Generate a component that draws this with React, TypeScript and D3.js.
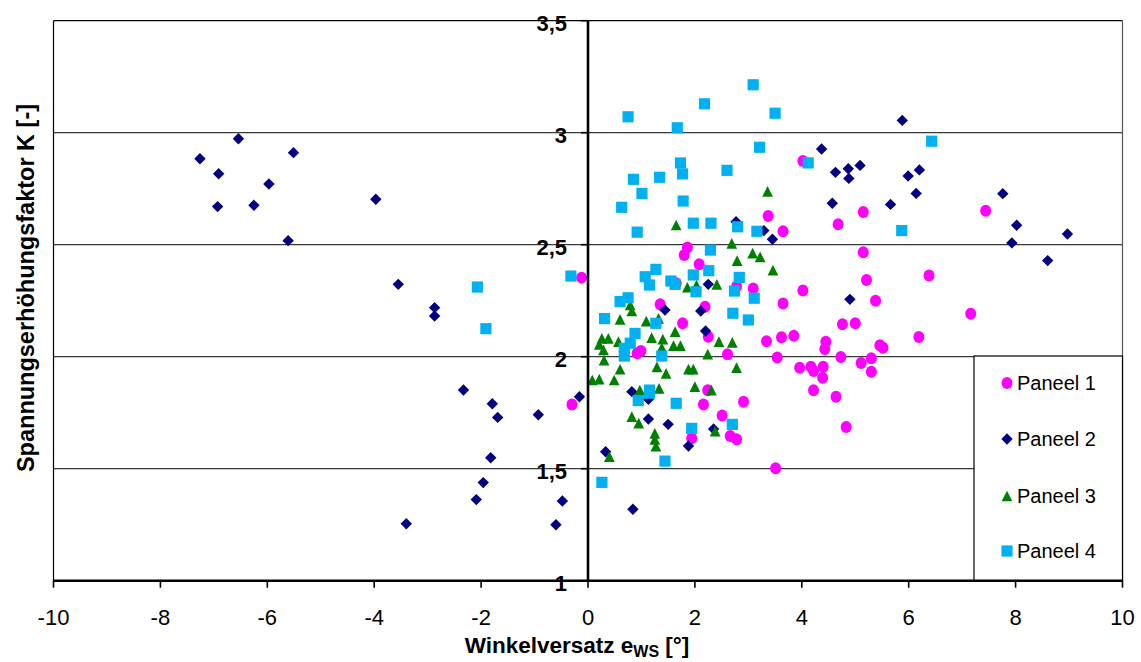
import React from "react";
import * as d3 from "d3";

// Paneel series: [Winkelversatz e_WS in °, Spannungserhöhungsfaktor K]
const paneel1: [number, number][] = [
  [-0.12, 2.353], [-0.3, 1.787], [4.02, 2.874], [3.37, 2.628], [4.68, 2.591], [5.15, 2.646],
  [7.44, 2.652], [3.65, 2.56], [1.86, 2.487], [1.8, 2.454], [2.08, 2.413], [5.15, 2.466],
  [6.38, 2.363], [5.21, 2.342], [3.09, 2.305], [4.02, 2.296], [1.65, 2.328], [2.78, 2.313],
  [3.65, 2.237], [5.38, 2.25], [1.35, 2.234], [2.19, 2.223], [7.16, 2.192], [1.77, 2.149],
  [4.76, 2.145], [5.0, 2.149], [2.25, 2.089], [3.34, 2.069], [3.62, 2.087], [3.85, 2.094],
  [4.45, 2.067], [4.43, 2.034], [6.19, 2.088], [5.46, 2.051], [5.52, 2.04], [0.92, 2.015],
  [0.99, 2.025], [2.61, 2.011], [3.54, 1.996], [4.73, 1.999], [5.11, 1.972], [5.3, 1.993],
  [3.96, 1.951], [4.17, 1.955], [4.22, 1.936], [4.4, 1.955], [4.39, 1.906], [5.3, 1.933],
  [4.22, 1.85], [2.24, 1.85], [4.64, 1.821], [2.16, 1.787], [2.91, 1.799], [2.51, 1.737],
  [1.94, 1.636], [2.66, 1.646], [2.78, 1.631], [4.83, 1.686], [3.51, 1.502],
];

const paneel2: [number, number][] = [
  [-7.26, 2.884], [-6.54, 2.973], [-6.91, 2.817], [-5.51, 2.911], [-5.97, 2.771], [-6.93, 2.67],
  [-6.25, 2.676], [-3.97, 2.703], [-5.61, 2.518], [-3.55, 2.323], [-2.87, 2.219], [-2.87, 2.182],
  [-2.33, 1.851], [-1.79, 1.79], [-1.69, 1.729], [-0.93, 1.741], [-0.16, 1.821], [-1.82, 1.549],
  [-1.96, 1.438], [-2.09, 1.362], [-0.48, 1.356], [-0.6, 1.25], [-3.4, 1.254], [0.84, 1.319],
  [0.33, 1.576], [0.82, 1.844], [1.13, 1.722], [1.5, 1.698], [1.88, 1.601], [2.35, 1.677],
  [1.13, 1.81], [1.44, 2.208], [2.11, 2.204], [2.2, 2.115], [2.25, 2.323], [2.77, 2.603],
  [3.29, 2.563], [3.45, 2.524], [4.37, 2.927], [4.63, 2.823], [4.87, 2.839], [4.88, 2.796],
  [5.09, 2.854], [4.57, 2.685], [5.88, 3.055], [5.99, 2.807], [6.2, 2.834], [6.14, 2.729],
  [5.66, 2.68], [7.76, 2.728], [8.02, 2.587], [7.93, 2.508], [8.97, 2.548], [8.6, 2.429],
  [4.9, 2.256],
];

const paneel3: [number, number][] = [
  [0.08, 1.896], [0.21, 1.9], [0.49, 1.896], [0.3, 1.985], [0.6, 1.944], [0.26, 2.082],
  [0.38, 2.082], [0.21, 2.055], [0.29, 2.03], [0.57, 2.067], [0.79, 2.231], [0.82, 2.204],
  [0.6, 2.167], [1.09, 2.159], [1.32, 2.171], [1.63, 2.112], [1.19, 2.085], [1.4, 2.078],
  [1.6, 2.049], [1.73, 2.049], [1.38, 2.04], [1.29, 1.955], [1.46, 1.926], [1.88, 1.945],
  [1.97, 1.945], [0.97, 1.851], [1.33, 1.859], [2.0, 1.866], [0.82, 1.732], [0.95, 1.703],
  [1.25, 1.658], [1.25, 1.631], [1.27, 1.601], [0.4, 1.554], [2.38, 1.668], [2.31, 1.851],
  [2.24, 2.011], [2.45, 2.067], [2.7, 2.064], [2.78, 1.951], [2.41, 2.323], [2.03, 2.32],
  [1.86, 2.31], [2.69, 2.506], [3.08, 2.462], [3.22, 2.446], [2.79, 2.429], [3.46, 2.386],
  [3.36, 2.738], [1.65, 2.588],
];

const paneel4: [number, number][] = [
  [-2.07, 2.311], [-1.91, 2.125], [-0.32, 2.36], [0.26, 1.439], [0.75, 3.071], [1.67, 3.022],
  [2.18, 3.129], [3.09, 3.214], [3.5, 3.087], [3.21, 2.935], [1.73, 2.865], [1.77, 2.816],
  [0.85, 2.792], [1.34, 2.801], [1.01, 2.729], [0.63, 2.667], [1.78, 2.695], [2.6, 2.832],
  [4.12, 2.865], [6.43, 2.962], [5.87, 2.563], [0.92, 2.556], [1.97, 2.596], [2.3, 2.596],
  [2.8, 2.58], [3.16, 2.56], [2.29, 2.476], [2.26, 2.384], [2.83, 2.354], [2.74, 2.293],
  [3.11, 2.261], [2.02, 2.29], [2.71, 2.194], [3.0, 2.164], [1.27, 2.39], [1.07, 2.357],
  [1.15, 2.32], [1.55, 2.338], [1.63, 2.323], [1.97, 2.365], [0.6, 2.246], [0.75, 2.263],
  [0.31, 2.17], [1.27, 2.149], [0.88, 2.104], [0.79, 2.06], [0.68, 2.037], [0.68, 2.003],
  [1.38, 2.003], [1.15, 1.851], [0.94, 1.804], [1.15, 1.837], [1.65, 1.792], [1.94, 1.68],
  [1.44, 1.534], [2.7, 1.698],
];

const seriesNames = ["Paneel 1", "Paneel 2", "Paneel 3", "Paneel 4"];
const xTicks = [-10, -8, -6, -4, -2, 0, 2, 4, 6, 8, 10];
const yTicks = [1, 1.5, 2, 2.5, 3, 3.5];
const yGrid = [1.5, 2, 2.5, 3];

const W = 1141;
const H = 662;
const plot = { left: 53.5, right: 1122.5, top: 20.7, bottom: 580.7 };
const FONT = "'Liberation Sans', Arial, sans-serif";

const x = d3.scaleLinear().domain([-10, 10]).range([plot.left, plot.right]);
const y = d3.scaleLinear().domain([1, 3.5]).range([plot.bottom, plot.top]);

const fmt = (v: number) => String(v).replace(".", ",");

// Marker shapes
const diamond = {
  draw(ctx: d3.Path, size: number) {
    const r = Math.sqrt(size) / 2;
    ctx.moveTo(0, -r);
    ctx.lineTo(r, 0);
    ctx.lineTo(0, r);
    ctx.lineTo(-r, 0);
    ctx.closePath();
  },
};
const triangle = {
  draw(ctx: d3.Path, size: number) {
    const s = Math.sqrt(size);
    ctx.moveTo(0, -s / 2);
    ctx.lineTo(s / 2, s / 2);
    ctx.lineTo(-s / 2, s / 2);
    ctx.closePath();
  },
};

const styles = [
  { color: "#FF00FF", kind: "ellipse" },
  { color: "#000080", path: d3.symbol(diamond as any, 130)() as string },
  { color: "#008000", path: d3.symbol(triangle as any, 115)() as string },
  { color: "#00B0F0", path: d3.symbol(d3.symbolSquare, 125)() as string },
];

function Marker({ i, cx, cy }: { i: number; cx: number; cy: number }) {
  const st = styles[i] as any;
  if (st.kind === "ellipse") {
    return <ellipse cx={cx} cy={cy} rx={5.5} ry={6} fill={st.color} />;
  }
  return <path d={st.path} transform={`translate(${cx},${cy})`} fill={st.color} />;
}

export default function App() {
  const data = [paneel1, paneel2, paneel3, paneel4];
  const legendY = [383, 439, 496, 551];
  return (
    <svg
      width={W}
      height={H}
      style={{ position: "absolute", left: 0, top: 0, background: "#fff" }}
      fontFamily={FONT}
    >
      <rect x={0} y={0} width={W} height={H} fill="#fff" />
      {/* horizontal gridlines */}
      {yGrid.map((v) => (
        <line key={v} x1={plot.left} x2={plot.right} y1={y(v)} y2={y(v)} stroke="#3a3a3a" strokeWidth={1.2} />
      ))}
      {/* plot frame */}
      <line x1={plot.left} x2={plot.right} y1={plot.top} y2={plot.top} stroke="#000" strokeWidth={1.2} />
      <line x1={plot.left} x2={plot.left} y1={plot.top} y2={plot.bottom} stroke="#000" strokeWidth={1.2} />
      <line x1={plot.right} x2={plot.right} y1={plot.top} y2={plot.bottom} stroke="#555" strokeWidth={1.2} />

      {/* data points */}
      {data.map((s, i) => (
        <g key={i}>
          {s.map((d, j) => (
            <Marker key={j} i={i} cx={x(d[0])} cy={y(d[1])} />
          ))}
        </g>
      ))}

      {/* legend */}
      <rect x={974} y={356} width={plot.right - 974} height={plot.bottom - 356} fill="#fff" stroke="#000" strokeWidth={1.2} />
      {seriesNames.map((n, i) => (
        <g key={n}>
          <Marker i={i} cx={1007} cy={legendY[i]} />
          <text x={1017} y={legendY[i] + 7} fontSize={20} fill="#000">
            {n}
          </text>
        </g>
      ))}

      {/* y axis at x = 0 */}
      <line x1={x(0)} x2={x(0)} y1={plot.top} y2={plot.bottom} stroke="#000" strokeWidth={2.6} />
      {yTicks.map((v) => (
        <g key={v}>
          <line x1={x(0) - 7} x2={x(0)} y1={y(v)} y2={y(v)} stroke="#000" strokeWidth={1.6} />
          <text x={x(0) - 21} y={y(v) + 10} fontSize={22} fontWeight="bold" textAnchor="end" fill="#000">
            {fmt(v)}
          </text>
        </g>
      ))}

      {/* x axis */}
      <line x1={plot.left} x2={plot.right} y1={plot.bottom} y2={plot.bottom} stroke="#000" strokeWidth={2.6} />
      {xTicks.map((v) => (
        <g key={v}>
          <line x1={x(v)} x2={x(v)} y1={plot.bottom} y2={plot.bottom + 7} stroke="#000" strokeWidth={1.6} />
          <text x={x(v)} y={625} fontSize={22} textAnchor="middle" fill="#000">
            {v}
          </text>
        </g>
      ))}

      {/* axis titles */}
      <text x={577} y={653} fontSize={22.5} fontWeight="bold" textAnchor="middle" fill="#000">
        Winkelversatz e<tspan fontSize={16} dy={4}>WS</tspan>
        <tspan dy={-4}> [°]</tspan>
      </text>
      <text
        transform={`translate(34,288) rotate(-90)`}
        fontSize={23.5}
        fontWeight="bold"
        textAnchor="middle"
        fill="#000"
      >
        Spannungserhöhungsfaktor K [-]
      </text>
    </svg>
  );
}
